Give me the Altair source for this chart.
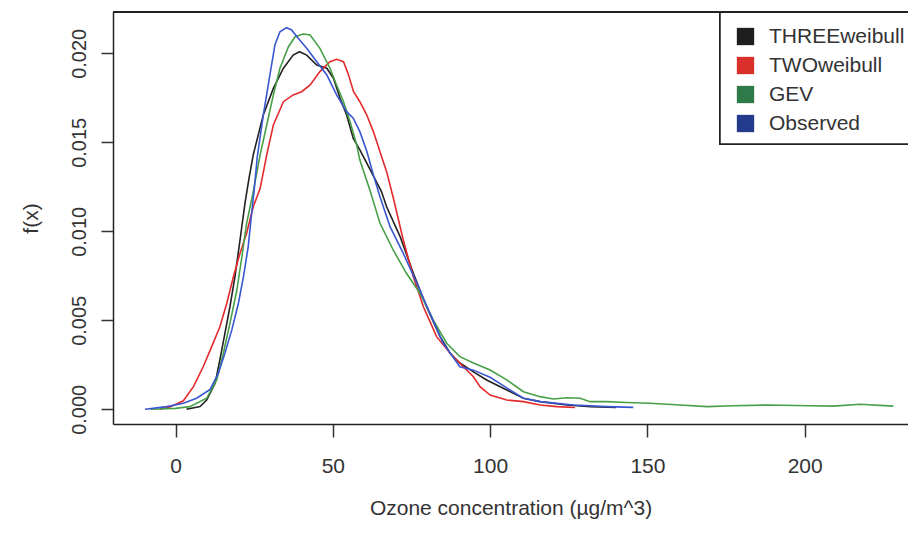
import altair as alt
import pandas as pd

# Series names (legend order) and colours
series_names = ["THREEweibull", "TWOweibull", "GEV", "Observed"]
line_colors = ["#222222", "#e42a2c", "#47a047", "#3a57d2"]
swatch_colors = ["#1e1e1e", "#d9302c", "#2e7a48", "#243a8c"]

# THREEweibull (black)
three_x = [3.5, 7.8, 9.9, 12.6, 14.1, 15.7, 17.3, 18.9, 20.5, 22.1, 23.3, 24.7, 27.9, 31.1, 34.3,
           37.4, 39.4, 41.7, 44.9, 48.1, 50.2, 52.3, 54.4, 56.5, 58.6, 62.9, 65.5, 67.1, 71.4,
           75.6, 79.8, 84.1, 87.3, 90.4, 94.7, 98.9, 105.3, 110.6, 115.9, 124.4, 132.0, 140.0]
three_y = [0.0, 0.00015, 0.00052, 0.00146, 0.00277, 0.00427, 0.00576, 0.00745, 0.00951, 0.0116,
           0.0129, 0.01429, 0.01653, 0.01803, 0.01916, 0.0199, 0.02009, 0.0199, 0.01934, 0.01916,
           0.0186, 0.01747, 0.01653, 0.01522, 0.01457, 0.01312, 0.01222, 0.01138, 0.0097, 0.00764,
           0.00576, 0.00408, 0.00315, 0.0026, 0.0021, 0.00165, 0.00108, 0.00062, 0.00043, 0.00024,
           0.00015, 0.0001]

# TWOweibull (red)
two_x = [-5.0, -2.0, 2.5, 5.7, 8.8, 11.5, 14.1, 16.3, 18.4, 20.5, 22.6, 24.7, 26.9, 29.0, 31.1,
         34.3, 37.4, 40.1, 42.8, 45.9, 49.1, 51.2, 53.4, 55.0, 56.6, 58.6, 60.8, 62.9, 65.0, 67.1,
         69.2, 72.4, 75.6, 78.8, 83.0, 87.3, 91.5, 94.7, 96.8, 100.0, 105.3, 110.6, 115.9, 121.2,
         127.0]
two_y = [0.0, 0.00012, 0.00048, 0.00127, 0.00239, 0.00352, 0.00464, 0.00596, 0.00745, 0.00876,
         0.00989, 0.01138, 0.0124, 0.01429, 0.01597, 0.01728, 0.01766, 0.01784, 0.01822, 0.01897,
         0.01953, 0.01966, 0.01953, 0.01878, 0.01784, 0.01728, 0.01653, 0.0156, 0.01447, 0.01335,
         0.0119, 0.00951, 0.00745, 0.00576, 0.00408, 0.00315, 0.00239, 0.00183, 0.00127, 0.0008,
         0.00052, 0.00043, 0.00024, 0.00015, 0.0001]

# GEV (green)
gev_x = [-8.0, 0.0, 4.6, 9.9, 13.1, 15.2, 17.3, 19.5, 21.1, 22.6, 24.5, 26.9, 29.0, 31.1, 33.2,
         35.9, 38.0, 40.6, 42.8, 45.9, 49.1, 51.2, 53.4, 55.5, 57.6, 58.6, 61.8, 65.0, 69.2, 73.4,
         77.7, 81.9, 86.2, 90.4, 94.7, 100.0, 105.3, 110.6, 115.9, 120.1, 124.4, 128.6, 131.8,
         137.1, 143.4, 150.8, 160.4, 168.9, 177.3, 188.0, 201.7, 209.0, 217.6, 228.2]
gev_y = [0.0, 0.00005, 0.00015, 0.00062, 0.00165, 0.00315, 0.00483, 0.0067, 0.00857, 0.01045,
         0.01204, 0.01429, 0.01597, 0.01766, 0.01916, 0.02037, 0.02093, 0.02108, 0.02103, 0.02028,
         0.01916, 0.01822, 0.01728, 0.01616, 0.01485, 0.014, 0.0123, 0.01045, 0.00895, 0.00764,
         0.00652, 0.00502, 0.00371, 0.00296, 0.0026, 0.00221, 0.00165, 0.00099, 0.00071, 0.00058,
         0.00065, 0.00062, 0.00043, 0.00043, 0.00038, 0.00034, 0.00024, 0.00015, 0.0002, 0.00024,
         0.0002, 0.00018, 0.00028, 0.00018]

# Observed (blue)
obs_x = [-9.7, -2.8, 2.5, 6.7, 11.0, 13.6, 15.7, 17.9, 20.0, 21.6, 23.1, 24.2, 25.0, 26.0, 27.9,
         30.0, 31.6, 33.2, 35.3, 36.9, 39.0, 41.7, 44.9, 48.1, 51.2, 54.4, 56.5, 58.6, 60.8, 62.9,
         65.0, 68.2, 72.4, 76.7, 80.9, 85.1, 90.4, 94.7, 100.0, 105.3, 110.6, 115.9, 126.5, 137.1,
         145.5]
obs_y = [0.0, 0.00015, 0.00034, 0.00062, 0.00112, 0.00202, 0.00315, 0.00446, 0.00596, 0.00745,
         0.00913, 0.011, 0.0123, 0.0142, 0.01653, 0.01878, 0.02047, 0.02121, 0.02144, 0.02131,
         0.02084, 0.02028, 0.01953, 0.01878, 0.01766, 0.01672, 0.01635, 0.0156, 0.0145, 0.01316,
         0.01194, 0.01026, 0.00876, 0.00708, 0.00539, 0.00371, 0.00239, 0.0022, 0.0018, 0.0012,
         0.00062, 0.00043, 0.00024, 0.00015, 0.00011]

x_ticks = [0, 50, 100, 150, 200]
y_ticks = [0.0, 0.005, 0.01, 0.015, 0.02]

frames = []
for name, xs, ys in [("THREEweibull", three_x, three_y), ("TWOweibull", two_x, two_y),
                     ("GEV", gev_x, gev_y), ("Observed", obs_x, obs_y)]:
    frames.append(pd.DataFrame({"series": name, "x": xs, "y": ys}))
df = pd.concat(frames, ignore_index=True)

FONT = "Liberation Sans"
TXT = "#333333"

# plot spans page x 113..908 (0 at 175.5 px, 3.146 px per unit)
x_enc = alt.X("x:Q", scale=alt.Scale(domain=[-19.87, 232.84], nice=False, zero=False),
              axis=alt.Axis(values=x_ticks, title="Ozone concentration (µg/m^3)", grid=False,
                            labelFontSize=21, titleFontSize=21, labelPadding=18,
                            titlePadding=21, tickSize=13, labelFlush=False))
y_enc = alt.Y("y:Q", scale=alt.Scale(domain=[-0.000826, 0.02232], nice=False, zero=False),
              axis=alt.Axis(values=y_ticks, format=".3f", title="f(x)", grid=False,
                            labelAngle=270, labelAlign="center", labelBaseline="alphabetic",
                            labelFontSize=20, titleFontSize=21, labelPadding=16,
                            titlePadding=28, tickSize=12, labelFlush=False))

lines = alt.Chart(df).mark_line(strokeWidth=1.6).encode(
    x=x_enc,
    y=y_enc,
    color=alt.Color("series:N", scale=alt.Scale(domain=series_names, range=line_colors),
                    legend=None),
    detail="series:N",
)

# legend frame (clipped at the plot's right edge, as in the reference)
legend_box = alt.Chart(df).mark_rect(
    fill="white", stroke="#222222", strokeWidth=1.5, clip=True
).encode(x=alt.value(607), x2=alt.value(840), y=alt.value(0), y2=alt.value(132))

legend_layer = alt.Chart(df).mark_square(size=300, opacity=1).encode(
    color=alt.Color("series:N", scale=alt.Scale(domain=series_names, range=swatch_colors),
                    legend=alt.Legend(title=None, orient="none", legendX=622, legendY=14,
                                      symbolType="square", symbolSize=300, symbolStrokeWidth=0,
                                      symbolOpacity=1,
                                      labelFontSize=21, labelFont=FONT, labelColor=TXT,
                                      labelOffset=13, rowPadding=7, padding=0)),
).transform_filter("false")

top_rule = alt.Chart(df).mark_rule(color="#222222", strokeWidth=1.5).encode(y=alt.value(0))

chart = alt.layer(lines, legend_box, legend_layer, top_rule).resolve_scale(
    color="independent"
).properties(
    width=795, height=412,
    autosize=alt.AutoSizeParams(type="none"),
    padding={"left": 105, "top": 4, "right": 0, "bottom": 98},
    background="white",
).configure_view(stroke=None).configure_axis(
    labelFont=FONT, titleFont=FONT, labelColor=TXT, titleColor=TXT,
    titleFontWeight="normal", domainColor="#222222", domainWidth=1.5,
    tickColor="#333333", tickWidth=1.5,
)

chart.save("out.html", embed_options={"renderer": "svg", "actions": False})
